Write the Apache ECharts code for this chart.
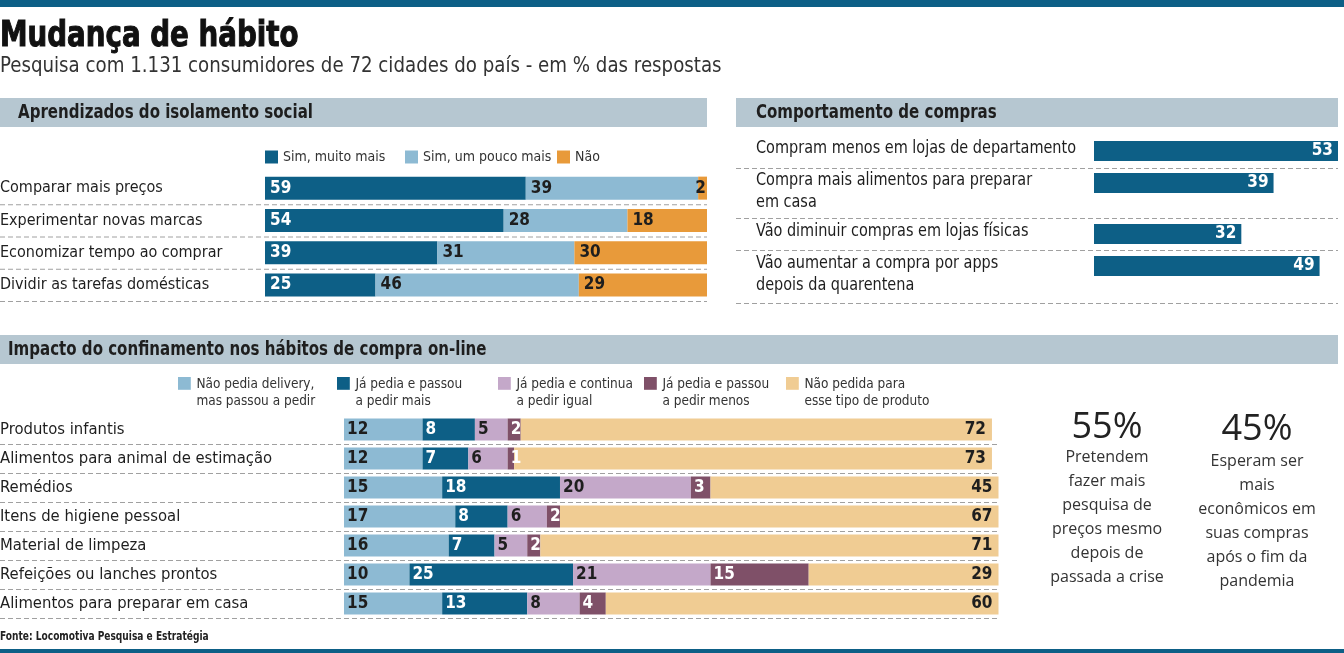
<!DOCTYPE html>
<html>
<head>
<meta charset="utf-8">
<title>Mudança de hábito</title>
<script src="https://cdn.jsdelivr.net/npm/echarts@6/dist/echarts.min.js"></script>
<style>
html, body { margin: 0; padding: 0; background: #fff; }
#main { width: 1344px; height: 653px; }
</style>
</head>
<body>
<div id="main"></div>
<script>
// ---- dados ----
var aprendCats = ['Comparar mais preços', 'Experimentar novas marcas', 'Economizar tempo ao comprar', 'Dividir as tarefas domésticas'];
var aprendNomes = ['Sim, muito mais', 'Sim, um pouco mais', 'Não'];
var simMuito = [59, 54, 39, 25];
var simPouco = [39, 28, 31, 46];
var nao = [2, 18, 30, 29];

var comprasCats = ['Compram menos em lojas de departamento', 'Compra mais alimentos para preparar\nem casa', 'Vão diminuir compras em lojas físicas', 'Vão aumentar a compra por apps\ndepois da quarentena'];
var comprasVals = [53, 39, 32, 49];

var impactoCats = ['Produtos infantis', 'Alimentos para animal de estimação', 'Remédios', 'Itens de higiene pessoal', 'Material de limpeza', 'Refeições ou lanches prontos', 'Alimentos para preparar em casa'];
var impactoNomes = ['Não pedia delivery,\nmas passou a pedir', 'Já pedia e passou\na pedir mais', 'Já pedia e continua\na pedir igual', 'Já pedia e passou\na pedir menos', 'Não pedida para\nesse tipo de produto'];
var naoPedia = [12, 12, 15, 17, 16, 10, 15];
var pediaMais = [8, 7, 18, 8, 7, 25, 13];
var pediaIgual = [5, 6, 20, 6, 5, 21, 8];
var pediaMenos = [2, 1, 3, 2, 2, 15, 4];
var naoPedida = [72, 73, 45, 67, 71, 29, 60];

var destaqueValores = ['55%', '45%'];
var destaqueTextos = [
	['Pretendem', 'fazer mais', 'pesquisa de', 'preços mesmo', 'depois de', 'passada a crise'],
	['Esperam ser', 'mais', 'econômicos em', 'suas compras', 'após o fim da', 'pandemia']
];

// ---- estilo ----
var NARROW = "'Liberation Sans Narrow', 'DejaVu Sans Condensed', sans-serif";
var SANS = "'Open Sans', 'Noto Sans', sans-serif";
var AZUL = '#0d5f86', AZUL_CLARO = '#8dbad3', LARANJA = '#e89a3a';
var LILAS = '#c4a8c9', VINHO = '#7f5068', AREIA = '#f0cc93';
var FAIXA = '#b6c7d1', TXT = '#1e1e1e';

var myChart = echarts.init(document.getElementById('main'));

// layout das areas
var g1 = {left: 265, top: 172, width: 442, height: 129, outerBoundsMode: 'none'};
var g3 = {left: 344, top: 415, width: 654.5, height: 203, outerBoundsMode: 'none'};
var comprasTop = [141, 173, 224, 256];
var comprasSep = [168, 218, 250, 303];

var grids = [g1], xAxes = [], yAxes = [], seriesList = [], legends = [], graphics = [];

xAxes.push({gridIndex: 0, type: 'value', min: 0, max: 100, show: false});
yAxes.push({
	gridIndex: 0, type: 'category', inverse: true, data: aprendCats,
	axisLine: {show: false}, axisTick: {show: false},
	axisLabel: {align: 'left', margin: g1.left, fontSize: 16, fontFamily: NARROW, color: TXT}
});

comprasTop.forEach(function (t, i) {
	grids.push({left: 1094, top: t, width: 244, height: 20, outerBoundsMode: 'none'});
	xAxes.push({gridIndex: i + 1, type: 'value', min: 0, max: 53, show: false});
	yAxes.push({gridIndex: i + 1, type: 'category', data: [comprasCats[i]], show: false});
});

grids.push(g3);
xAxes.push({gridIndex: 5, type: 'value', min: 0, max: 100, show: false});
yAxes.push({
	gridIndex: 5, type: 'category', inverse: true, data: impactoCats,
	axisLine: {show: false}, axisTick: {show: false},
	axisLabel: {align: 'left', margin: g3.left, fontSize: 16.5, fontFamily: NARROW, color: TXT}
});

function numLabel(pos, color, dist) {
	return {show: true, position: pos, distance: dist, color: color,
		fontSize: 17, fontWeight: 'bold', fontFamily: NARROW};
}

// aprendizados
var aprendDados = [simMuito, simPouco, nao];
var aprendCores = [AZUL, AZUL_CLARO, LARANJA];
var aprendTxt = ['#fff', TXT, TXT];
aprendDados.forEach(function (d, k) {
	seriesList.push({
		name: aprendNomes[k], type: 'bar', stack: 'a', xAxisIndex: 0, yAxisIndex: 0,
		barWidth: 23, itemStyle: {color: aprendCores[k]},
		label: numLabel('insideLeft', aprendTxt[k], 5),
		data: d.map(function (v) {
			// segmento final muito estreito: numero encostado a direita
			return (k == 2 && v < 5) ? {value: v, label: {position: 'insideRight', distance: 1}} : v;
		})
	});
});

// comportamento de compras
comprasVals.forEach(function (v, i) {
	seriesList.push({
		name: 'Comportamento de compras', type: 'bar', xAxisIndex: i + 1, yAxisIndex: i + 1,
		barWidth: 20, itemStyle: {color: AZUL},
		label: numLabel('insideRight', '#fff', 5),
		data: [v]
	});
});

// impacto
var impactoDados = [naoPedia, pediaMais, pediaIgual, pediaMenos, naoPedida];
var impactoCores = [AZUL_CLARO, AZUL, LILAS, VINHO, AREIA];
var impactoTxt = [TXT, '#fff', TXT, '#fff', TXT];
impactoDados.forEach(function (d, k) {
	seriesList.push({
		name: impactoNomes[k], type: 'bar', stack: 'b', xAxisIndex: 5, yAxisIndex: 5,
		barWidth: 22, itemStyle: {color: impactoCores[k]},
		label: numLabel(k == 4 ? 'insideRight' : 'insideLeft', impactoTxt[k], k == 4 ? 6 : 3),
		data: d
	});
});

// legendas
[265, 405, 557].forEach(function (x, k) {
	legends.push({
		data: [aprendNomes[k]], left: x, top: 150, padding: 0, selectedMode: false,
		icon: 'rect', itemWidth: 13, itemHeight: 13,
		textStyle: {fontSize: 14, fontFamily: NARROW, color: '#333'}
	});
});
// icone com caixa alta e quadrado no topo, para alinhar com a 1a linha do texto
[178, 337, 498, 644, 786].forEach(function (x, k) {
	legends.push({
		data: [impactoNomes[k]], left: x, top: 376, padding: 0, selectedMode: false,
		icon: 'path://M0,0H10V10H0Z M0,25L0,25', itemWidth: 14, itemHeight: 32,
		textStyle: {fontSize: 13.5, lineHeight: 17, fontFamily: NARROW, color: '#333'}
	});
});

// faixas, titulos e textos
function rect(x, y, w, h, c) {
	graphics.push({type: 'rect', shape: {x: x, y: y, width: w, height: h}, style: {fill: c}, silent: true});
}
function text(t, x, y, size, opts) {
	opts = opts || {};
	graphics.push({
		type: 'text', x: x, y: y, scaleX: opts.sx || 1, silent: true,
		style: {
			text: t, fontSize: size, fontFamily: opts.family || NARROW, fontWeight: opts.weight || 'normal',
			fill: opts.color || TXT, align: opts.align || 'left', verticalAlign: opts.valign || 'middle',
			lineHeight: opts.lineHeight, stroke: opts.stroke, lineWidth: opts.strokeWidth
		}
	});
}
function dash(x1, x2, y) {
	graphics.push({
		type: 'line', silent: true, shape: {x1: x1, y1: y, x2: x2, y2: y},
		style: {stroke: '#a0a0a0', lineWidth: 1, lineDash: [5, 3]}
	});
}

rect(0, 0, 1344, 7, AZUL);
rect(0, 649, 1344, 4, AZUL);
text('Mudança de hábito', 0, 37, 36, {weight: 'bold', color: '#111', stroke: '#111', strokeWidth: 1, sx: 0.855});
text('Pesquisa com 1.131 consumidores de 72 cidades do país - em % das respostas', 0, 66, 22, {color: '#333', sx: 0.92});

rect(0, 98, 707, 29, FAIXA);
text('Aprendizados do isolamento social', 18, 113, 19, {weight: 'bold', sx: 0.88});
rect(736, 98, 602, 29, FAIXA);
text('Comportamento de compras', 756, 113, 19, {weight: 'bold', sx: 0.88});
rect(0, 335, 1338, 29, FAIXA);
text('Impacto do confinamento nos hábitos de compra on-line', 8, 350, 19, {weight: 'bold', sx: 0.88});

aprendCats.forEach(function (c, i) {
	dash(0, 707, g1.top + (i + 1) * g1.height / aprendCats.length + 0.5);
});
impactoCats.forEach(function (c, i) {
	dash(0, 1000, g3.top + (i + 1) * g3.height / impactoCats.length + 0.5);
});
comprasCats.forEach(function (c, i) {
	text(c, 756, comprasTop[i] + 10 - 13, 17, {valign: 'top', lineHeight: 22, sx: 0.945});
	dash(736, 1338, comprasSep[i] + 0.5);
});

[1107, 1257].forEach(function (cx, k) {
	text(destaqueValores[k], cx, 428 + k * 2, 36, {family: SANS, align: 'center', color: '#222'});
	destaqueTextos[k].forEach(function (t, j) {
		text(t, cx, 457 + k * 4 + j * 24, 16, {family: SANS, align: 'center', color: '#333'});
	});
});

text('Fonte: Locomotiva Pesquisa e Estratégia', 0, 637, 12, {weight: 'bold', color: '#222', sx: 0.84});

var option = {
	animation: false,
	grid: grids,
	xAxis: xAxes,
	yAxis: yAxes,
	legend: legends,
	series: seriesList,
	graphic: graphics
};
myChart.setOption(option);
</script>
</body>
</html>
